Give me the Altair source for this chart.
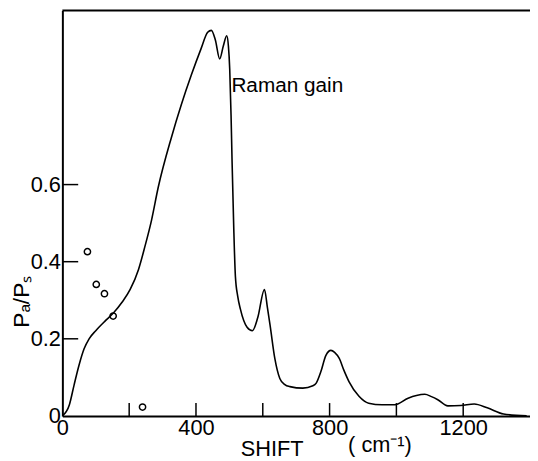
import altair as alt
import pandas as pd

# Raman gain curve (shift in cm^-1, ratio)
shift = [0, 21, 35, 50, 65, 80, 100, 129, 154, 178, 203, 228, 247, 267, 287, 326, 356,
         386, 415, 435, 446, 458, 471, 482, 492, 497, 501, 505, 508, 513, 518, 525, 533,
         553, 569, 585, 605, 614, 622, 636, 651, 665, 681, 720, 750, 760, 774, 789, 804,
         815, 829, 843, 858, 888, 917, 957, 996, 1035, 1060, 1085, 1105, 1124, 1154,
         1193, 1233, 1272, 1321, 1390]
gain = [0.0, 0.029, 0.08, 0.132, 0.174, 0.2, 0.221, 0.247, 0.268, 0.294, 0.328, 0.38,
        0.439, 0.508, 0.593, 0.721, 0.807, 0.884, 0.952, 0.995, 1.0, 0.975, 0.926, 0.96,
        0.986, 0.96, 0.9, 0.78, 0.662, 0.49, 0.362, 0.31, 0.277, 0.23, 0.221, 0.255,
        0.328, 0.28, 0.234, 0.149, 0.097, 0.082, 0.076, 0.072, 0.078, 0.085, 0.115,
        0.157, 0.170, 0.165, 0.149, 0.118, 0.089, 0.051, 0.033, 0.029, 0.029, 0.046,
        0.053, 0.056, 0.05, 0.042, 0.026, 0.027, 0.031, 0.021, 0.005, 0.0]

# measured points
pt_shift = [75, 101.5, 126, 152, 240]
pt_ratio = [0.426, 0.341, 0.317, 0.259, 0.023]

x_label_vals = [0, 400, 800, 1200]
x_tick_vals = [200, 400, 600, 800, 1000, 1200]
y_label_vals = [0, 0.2, 0.4, 0.6]
y_tick_vals = [0.2, 0.4, 0.6]

annot_text = ["Raman gain"]
annot_x = [506]
annot_y = [0.841]

FONT = "Liberation Sans"
W, H = 473, 410

xs = alt.Scale(domain=[0, 1400], nice=False, zero=False)
ys = alt.Scale(domain=[0, 1.0513], nice=False, zero=False)

curve_df = pd.DataFrame({"x": shift, "y": gain})
pts_df = pd.DataFrame({"x": pt_shift, "y": pt_ratio})
xt_df = pd.DataFrame({"x": x_tick_vals})
yt_df = pd.DataFrame({"y": y_tick_vals})
ann_df = pd.DataFrame({"x": annot_x, "y": annot_y, "t": annot_text})
one_df = pd.DataFrame({"t": ["( cm\u207b\u00b9)"]})

x_axis = alt.Axis(values=x_label_vals, format="d", ticks=False, grid=False,
                  domainColor="black", domainWidth=2, labelFont=FONT, labelFontSize=22,
                  labelColor="black", labelPadding=2, labelFlush=False, title="SHIFT",
                  titleFont=FONT, titleFontSize=22, titleFontWeight="normal",
                  titleColor="black", titleX=180, titleY=40, titleAlign="left",
                  titleBaseline="alphabetic")
y_axis = alt.Axis(values=y_label_vals, format="~g", ticks=False, grid=False,
                  domainColor="black", domainWidth=2, labelFont=FONT, labelFontSize=22,
                  labelColor="black", labelPadding=2, title="P\u2090/P\u209b",
                  titleFont=FONT, titleFontSize=23, titleFontWeight="normal",
                  titleColor="black", titleX=-34, titleY=294, titleAlign="center",
                  titleBaseline="alphabetic", titleAngle=270)

X = alt.X("x:Q", scale=xs, axis=x_axis)
Y = alt.Y("y:Q", scale=ys, axis=y_axis)

curve = alt.Chart(curve_df).mark_line(color="black", strokeWidth=1.6,
                                      interpolate="monotone").encode(x=X, y=Y)

pts = alt.Chart(pts_df).mark_point(shape="circle", filled=False, size=40,
                                   strokeWidth=1.5, color="black", opacity=1).encode(x=X, y=Y)

xticks = alt.Chart(xt_df).mark_rule(color="black", strokeWidth=1.5).encode(
    x=X, y=alt.value(H - 13), y2=alt.value(H),
)

yticks = alt.Chart(yt_df).mark_rule(color="black", strokeWidth=1.5).encode(
    y=Y, x=alt.value(0), x2=alt.value(16),
)

topline = alt.Chart(one_df).mark_rule(color="black", strokeWidth=2).encode(
    x=alt.value(0), x2=alt.value(W + 2), y=alt.value(0)
)

ann = alt.Chart(ann_df).mark_text(align="left", baseline="alphabetic", font=FONT,
                                  fontSize=21, color="black").encode(x=X, y=Y, text="t:N")

unit = alt.Chart(one_df).mark_text(align="left", baseline="alphabetic", font=FONT,
                                   fontSize=22, color="black").encode(
    x=alt.value(289), y=alt.value(H + 36), text="t:N"
)

chart = alt.layer(curve, pts, xticks, yticks, topline, ann, unit).properties(
    width=W, height=H,
    autosize=alt.AutoSizeParams(type="none"),
    padding={"left": 55, "top": 0, "right": 0, "bottom": 43},
    background="white",
).configure_view(stroke=None)

chart.save("out.html", embed_options={"renderer": "svg", "actions": False})
